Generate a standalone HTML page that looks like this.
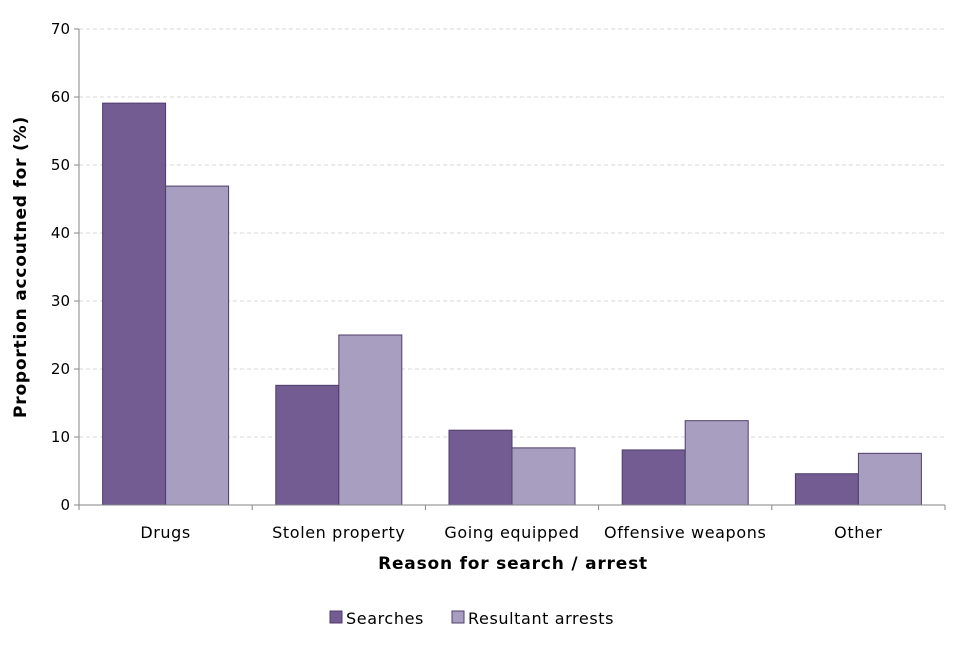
<!DOCTYPE html>
<html><head><meta charset="utf-8"><style>
html,body{margin:0;padding:0;background:#fff;}
svg text{font-family:"DejaVu Sans","Liberation Sans",sans-serif;fill:#000;}
</style></head><body>
<svg id="chart" width="960" height="640"></svg>
<script>
const categories=["Drugs","Stolen property","Going equipped","Offensive weapons","Other"];
const searches=[59.1,17.6,11.0,8.1,4.6];
const arrests=[46.9,25.0,8.4,12.4,7.6];
const yTicks=[0,10,20,30,40,50,60,70];
const seriesNames=["Searches","Resultant arrests"];
const colors=["#725c92","#a89ebf"];
const svg=document.getElementById('chart');
const NS='http://www.w3.org/2000/svg';
const L=79,R=945,T=29,B=505,yMax=70;
const y=v=>B-(B-T)*v/yMax;
const bw=(R-L)/categories.length;
const x=i=>L+bw*i;
function el(t,a){const e=document.createElementNS(NS,t);for(const k in a)e.setAttribute(k,a[k]);svg.appendChild(e);return e;}
yTicks.forEach(t=>{
  if(t>0){const g=el('line',{x1:L,x2:R,y1:y(t),y2:y(t),stroke:'#d9d9d9','stroke-dasharray':'4,3'});
  
  }
  const tk=el('line',{x1:L-5,x2:L,y1:y(t),y2:y(t),stroke:'#868686'});
  
  
  const lb=el('text',{x:L-9,y:y(t)+5,'text-anchor':'end','font-size':15});
  lb.textContent=t;
  
  
});
const bwid=63;
categories.forEach((c,i)=>{
  const cx=x(i)+bw/2;
  [searches,arrests].forEach((s,j)=>{
    const r=el('rect',{x:cx-bwid+j*bwid,y:y(s[i]),width:bwid,height:B-y(s[i]),fill:colors[j],stroke:'#4f3d6b','stroke-width':1});
    
    
  });
  const lb=el('text',{x:cx,y:538,'text-anchor':'middle','font-size':16,'letter-spacing':'0.6'});
  lb.textContent=c;
  
  
  const tk=el('line',{x1:x(i),x2:x(i),y1:B,y2:B+5,stroke:'#868686'});
  
  
});
const lt=el('line',{x1:R,x2:R,y1:B,y2:B+5,stroke:'#868686'});


const ya=el('line',{x1:L,x2:L,y1:T,y2:B,stroke:'#868686'});


const xa=el('line',{x1:L,x2:R,y1:B,y2:B,stroke:'#868686'});


const xt=el('text',{x:513,y:569,'text-anchor':'middle','font-size':17,'font-weight':'bold','letter-spacing':'0.8'});
xt.textContent='Reason for search / arrest';


const yt=el('text',{x:0,y:0,'text-anchor':'middle','font-size':17,'font-weight':'bold','letter-spacing':'0.8',transform:'translate(26,267) rotate(-90)'});
yt.textContent='Proportion accoutned for (%)';


const lx=[330,452];
seriesNames.forEach((n,j)=>{
  const s=el('rect',{x:lx[j],y:611,width:12,height:12,fill:colors[j],stroke:'#4f3d6b'});
  
  
  const t=el('text',{x:lx[j]+16,y:624,'font-size':16,'letter-spacing':'0.6'});
  t.textContent=n;
  
  
});
</script>
</body></html>
